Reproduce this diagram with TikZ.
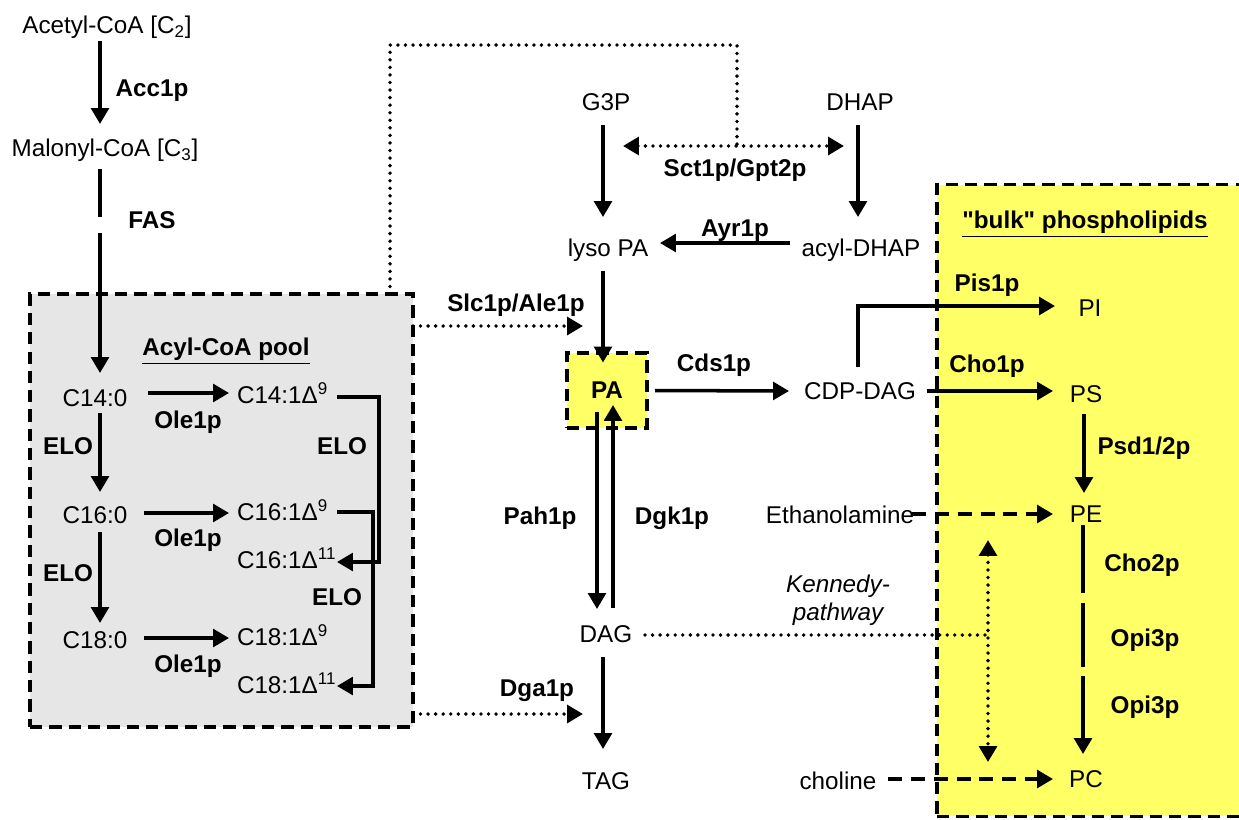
\documentclass[tikz,border=0pt]{standalone}
\usepackage{fontspec}
\setmainfont{Liberation Sans}
\usetikzlibrary{arrows.meta,calc}
\definecolor{bulkyellow}{HTML}{FFFF66}
\definecolor{poolgray}{HTML}{E6E6E6}
\newcommand{\straightquote}{\XeTeXglyph\XeTeXcharglyph"22\relax}
\begin{document}
\begin{tikzpicture}[x=0.02cm,y=-0.02cm,
  >={Triangle[length=9pt,width=10pt]},
  every node/.style={inner sep=0pt, outer sep=0pt},
  mol/.style={font=\fontsize{13.8}{16}\selectfont, text height=9.9pt, text depth=0pt},
  enz/.style={font=\fontsize{13.8}{16}\selectfont\bfseries, text height=9.9pt, text depth=0pt},
  arr/.style={line width=2pt, ->},
  plainline/.style={line width=2pt},
  dotl/.style={line width=2.2pt, line cap=round, dash pattern=on 0pt off 4.3pt},
  dashl/.style={line width=2pt, dash pattern=on 8pt off 5pt},
  boxborder/.style={draw, line width=1.9pt, dash pattern=on 7pt off 4pt},
]
\useasboundingbox (0,0) rectangle (1239,819);

% background boxes
\node[boxborder, fill=poolgray, minimum width=7.66cm, minimum height=8.66cm] (pool) at (221.5,510.5) {};
\node[boxborder, fill=bulkyellow, minimum width=6.26cm, minimum height=12.64cm] (bulk) at (1093.5,500.5) {};
\node[boxborder, fill=bulkyellow, minimum width=1.6cm, minimum height=1.5cm, font=\fontsize{13.8}{16}\selectfont\bfseries] (pa) at (607,390.5) {PA};

% left column
\node[mol] (acetyl) at (107,25) {Acetyl-CoA [C\textsubscript{2}]};
\node[mol] (malonyl) at (105,148) {Malonyl-CoA [C\textsubscript{3}]};
\node[enz] (acc) at (152,88) {Acc1p};
\node[enz] (fas) at (152,220) {FAS};
\node[enz] (poollab) at (226,347) {\underline{Acyl-CoA pool}};

\node[mol] (c14) at (95,398) {C14:0};
\node[mol] (c16) at (95,515) {C16:0};
\node[mol] (c18) at (95,640) {C18:0};
\node[mol, anchor=west] (c14d9) at (237,395) {C14:1Δ\textsuperscript{9}};
\node[mol, anchor=west] (c16d9) at (237,512) {C16:1Δ\textsuperscript{9}};
\node[mol, anchor=west] (c16d11) at (237,560) {C16:1Δ\textsuperscript{11}};
\node[mol, anchor=west] (c18d9) at (237,637) {C18:1Δ\textsuperscript{9}};
\node[mol, anchor=west] (c18d11) at (237,685) {C18:1Δ\textsuperscript{11}};

\node[enz] (elo1) at (68,446) {ELO};
\node[enz] (elo2) at (68,573) {ELO};
\node[enz] (ole1) at (188,420) {Ole1p};
\node[enz] (ole2) at (188,538) {Ole1p};
\node[enz] (ole3) at (188,664) {Ole1p};
\node[enz] (eloR1) at (342,446) {ELO};
\node[enz] (eloR2) at (337,597) {ELO};

% middle
\node[mol] (g3p) at (606,102) {G3P};
\node[mol] (dhap) at (860,102) {DHAP};
\node[mol] (lpa) at (608,248) {lyso PA};
\node[mol] (adhap) at (861,248) {acyl-DHAP};
\node[enz] (sct) at (735,168) {Sct1p/Gpt2p};
\node[enz] (ayr) at (735,228) {Ayr1p};
\node[enz] (slc) at (516,303) {Slc1p/Ale1p};
\node[enz] (cds) at (714,363) {Cds1p};
\node[mol] (cdp) at (860,391) {CDP-DAG};
\node[mol] (dag) at (606,634) {DAG};
\node[mol] (tag) at (606,781) {TAG};
\node[enz] (pah) at (540,516) {Pah1p};
\node[enz] (dgk) at (672,516) {Dgk1p};
\node[enz] (dga) at (537,688) {Dga1p};
\node[mol] (eth) at (840,515) {Ethanolamine};
\node[mol] (chol) at (838,781) {choline};
\node[font=\fontsize{13.8}{15.9}\selectfont\itshape, align=center] (kennedy) at (838,600) {Kennedy-\\pathway};

% right
\node[enz] (bulklab) at (1085,220) {\underline{\straightquote bulk\straightquote{} phospholipids}};
\node[mol] (pi) at (1090,308) {PI};
\node[mol] (ps) at (1086,394) {PS};
\node[mol] (pe) at (1086,514) {PE};
\node[mol] (pc) at (1086,779) {PC};
\node[enz] (pis) at (987,283) {Pis1p};
\node[enz] (cho1) at (987,364) {Cho1p};
\node[enz] (psd) at (1144,446) {Psd1/2p};
\node[enz] (cho2) at (1142,563) {Cho2p};
\node[enz] (opi1) at (1145,638) {Opi3p};
\node[enz] (opi2) at (1145,705) {Opi3p};

% coordinates for free ends
\coordinate (fasA) at (100,217);
\coordinate (fasB) at (100,233);
\coordinate (sctL) at (623,146);
\coordinate (sctR) at (844,146);
\coordinate (sctM) at (737,146);
\coordinate (slcend) at (583,326);
\coordinate (dgaend) at (583,714);
\coordinate (peA) at (1083,593);
\coordinate (peB) at (1083,603);
\coordinate (peC) at (1083,667);
\coordinate (peD) at (1083,676);
\coordinate (kenJ) at (988,635);
\coordinate (kenT) at (988,540);
\coordinate (kenB) at (988,762);

% left connectors
\draw[arr] ($(acetyl.center)+(-7,16)$) -- ($(malonyl.center)+(-5,-24)$);
\draw[plainline] ($(malonyl.center)+(-5,21)$) -- (fasA);
\draw[arr] (fasB) -- ($(c14.center)+(5,-25)$);
\draw[arr] ($(c14.center)+(5,15)$) -- ($(c16.center)+(5,-23)$);
\draw[arr] ($(c16.center)+(5,17)$) -- ($(c18.center)+(5,-17)$);
\draw[arr] ($(c14.center)+(53,-5)$) -- ($(c14d9.west)+(-8,-2)$);
\draw[arr] ($(c16.center)+(49,-2)$) -- ($(c16d9.west)+(-8,1)$);
\draw[arr] ($(c18.center)+(49,-2)$) -- ($(c18d9.west)+(-8,1)$);
\draw[arr] ($(c14d9.west)+(100,2)$) -- ++(42,0) |- ($(c16d11.west)+(100,2)$);
\draw[arr] ($(c16d9.west)+(100,0)$) -- ++(36,0) |- ($(c18d11.west)+(100,1)$);

% middle connectors
\draw[arr] ($(g3p.center)+(-3,23)$) -- ($(lpa.center)+(-5,-31)$);
\draw[arr] ($(dhap.center)+(-2,23)$) -- ($(adhap.center)+(-3,-31)$);
\draw[dotl, <->] (sctL) -- (sctR);
\draw[dotl] ($(pool.north west)+(360,0)$) -- ++(0,-249) -| (sctM);
\draw[arr] ($(adhap.center)+(-71,-5)$) -- ($(lpa.center)+(52,-5)$);
\draw[arr] ($(lpa.center)+(-5,23)$) -- ($(pa.center)+(-4,-28)$);
\draw[dotl, ->] (pool.east |- slcend) -- (slcend);
\draw[arr] ($(pa.center)+(48,0)$) -- ($(cdp.center)+(-71,0)$);
\draw[arr] ($(pa.center)+(-10,21.5)$) -- ($(dag.center)+(-9,-25)$);
\draw[arr] ($(dag.center)+(7,-26)$) -- ($(pa.center)+(6,14.5)$);
\draw[arr] ($(dag.center)+(-3,23)$) -- ($(tag.center)+(-3,-32)$);
\draw[dotl, ->] (pool.east |- dgaend) -- (dgaend);
\draw[dotl] ($(dag.center)+(39,1)$) -- (kenJ);
\draw[dotl, <->] (kenT) -- (kenB);

% right connectors
\draw[arr] ($(cdp.center)+(-2,-24)$) |- ($(pi.center)+(-35,-2)$);
\draw[arr] ($(cdp.center)+(67,0)$) -- ($(ps.center)+(-33,-3)$);
\draw[arr] ($(ps.center)+(-2,20)$) -- ($(pe.center)+(-2,-21)$);
\draw[dashl, ->] ($(eth.center)+(72,-1)$) -- ($(pe.center)+(-33,0)$);
\draw[plainline] ($(pe.center)+(-3,11)$) -- (peA);
\draw[plainline] (peB) -- (peC);
\draw[arr] (peD) -- ($(pc.center)+(-3,-25)$);
\draw[dashl, ->] ($(chol.center)+(50,-2)$) -- ($(pc.center)+(-33,0)$);
\end{tikzpicture}
\end{document}
